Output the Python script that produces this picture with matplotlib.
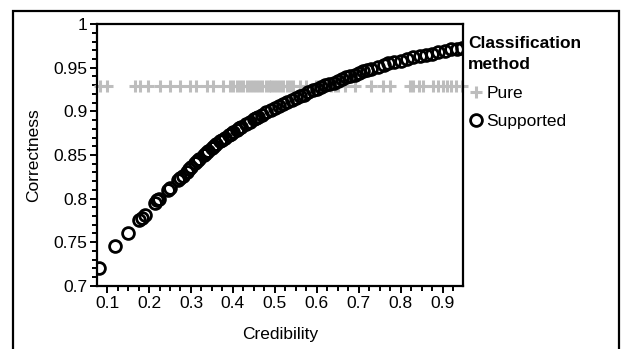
import matplotlib.pyplot as plt
from matplotlib.patches import Rectangle
from matplotlib.ticker import MultipleLocator, FormatStrFormatter

plt.rcParams['font.family'] = ['Liberation Sans', 'DejaVu Sans']

# --- data ---
pure_x = [0.083, 0.099, 0.167, 0.179, 0.198, 0.226, 0.25, 0.274, 0.298, 0.313,
          0.337, 0.353, 0.377, 0.393, 0.40, 0.41, 0.418, 0.425, 0.433, 0.44,
          0.447, 0.455, 0.462, 0.47, 0.478, 0.485, 0.49, 0.497, 0.505, 0.512,
          0.52, 0.528, 0.536, 0.543, 0.56, 0.575, 0.598, 0.605, 0.612, 0.62,
          0.635, 0.643, 0.65, 0.668, 0.69, 0.73, 0.757, 0.774, 0.821, 0.83,
          0.843, 0.852, 0.876, 0.89, 0.9, 0.91, 0.92, 0.933, 0.945]
pure_y = [0.929] * len(pure_x)

supported_x = [0.08, 0.12, 0.15, 0.177, 0.183, 0.19, 0.215, 0.22, 0.223, 0.245,
               0.25, 0.27, 0.275, 0.28, 0.29, 0.295, 0.30, 0.31, 0.315, 0.32,
               0.33, 0.335, 0.34, 0.35, 0.355, 0.36, 0.37, 0.375, 0.38, 0.39,
               0.395, 0.40, 0.41, 0.415, 0.42, 0.43, 0.44, 0.45, 0.455, 0.46,
               0.47, 0.48, 0.49, 0.50, 0.51, 0.52, 0.53, 0.54, 0.55, 0.56,
               0.57, 0.58, 0.59, 0.60, 0.61, 0.62, 0.63, 0.64, 0.65, 0.66,
               0.67, 0.68, 0.69, 0.70, 0.71, 0.72, 0.73, 0.745, 0.76, 0.77,
               0.785, 0.80, 0.815, 0.83, 0.845, 0.86, 0.875, 0.89, 0.905, 0.92,
               0.935, 0.945]
supported_y = [0.720, 0.746, 0.761, 0.775, 0.778, 0.781, 0.795, 0.798, 0.799, 0.810,
               0.812, 0.821, 0.824, 0.826, 0.831, 0.834, 0.836, 0.841, 0.843, 0.845,
               0.850, 0.852, 0.854, 0.858, 0.860, 0.862, 0.866, 0.867, 0.869, 0.873,
               0.874, 0.876, 0.879, 0.881, 0.882, 0.885, 0.888, 0.891, 0.892, 0.894,
               0.896, 0.899, 0.901, 0.904, 0.906, 0.908, 0.911, 0.913, 0.915, 0.917,
               0.919, 0.922, 0.924, 0.926, 0.928, 0.930, 0.931, 0.933, 0.935, 0.937,
               0.939, 0.940, 0.942, 0.944, 0.946, 0.947, 0.949, 0.951, 0.953, 0.955,
               0.957, 0.958, 0.960, 0.962, 0.963, 0.965, 0.966, 0.968, 0.969, 0.971,
               0.972, 0.973]

fig = plt.figure(figsize=(6.22, 3.49), dpi=100)
ax = fig.add_axes([0.156, 0.181, 0.588, 0.750])

# outer frame (runs off the bottom like in the picture)
fig.patches.append(Rectangle((13 / 622, -0.1), (619 - 13) / 622, 1.1 - 11 / 349,
                             transform=fig.transFigure, fill=False,
                             edgecolor="black", linewidth=1.6))

ax.plot(pure_x, pure_y, linestyle="none", marker="+", markersize=8,
        markeredgewidth=2.2, color="#bdbdbd", label="Pure", clip_on=False, zorder=2)
ax.plot(supported_x, supported_y, linestyle="none", marker="o", markersize=8.5,
        markeredgewidth=2, markerfacecolor="none", markeredgecolor="black",
        label="Supported", zorder=3)

ax.set_xlim(0.076, 0.948)
ax.set_ylim(0.7, 1.0)
ax.xaxis.set_major_locator(MultipleLocator(0.1))
ax.xaxis.set_minor_locator(MultipleLocator(0.025))
ax.yaxis.set_major_locator(MultipleLocator(0.05))
ax.yaxis.set_minor_locator(MultipleLocator(0.01))
ax.xaxis.set_major_formatter(FormatStrFormatter("%g"))
ax.yaxis.set_major_formatter(FormatStrFormatter("%g"))
ax.tick_params(which="major", direction="out", length=5, width=1.4, labelsize=12.5, pad=2)
ax.tick_params(which="minor", direction="out", length=3.5, width=1.4)
for s in ax.spines.values():
    s.set_linewidth(1.6)

ax.set_xlabel("Credibility", fontsize=12.5, labelpad=12)
ax.set_ylabel("Correctness", fontsize=12.5, labelpad=9)

leg = ax.legend(title="Classification\nmethod", loc="upper left",
                bbox_to_anchor=(1.0, 0.975), frameon=False, fontsize=12.5,
                title_fontproperties={"weight": "bold", "size": 12.5},
                handletextpad=0.15, handlelength=0.9, borderaxespad=0.1,
                borderpad=0.2, labelspacing=0.75)
leg._legend_box.align = "left"
leg.get_title().set_linespacing(1.55)

fig.savefig("out.png", dpi=100)
